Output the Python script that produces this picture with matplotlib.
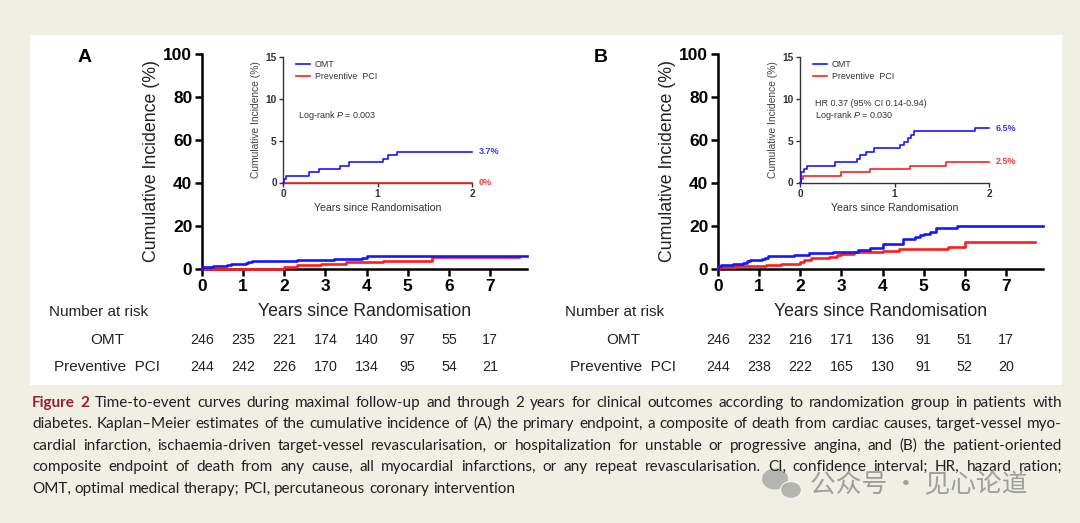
import math
import matplotlib
matplotlib.use("Agg")
import matplotlib.pyplot as plt
from matplotlib.patches import Rectangle, Ellipse

plt.rcParams['font.family'] = ['Liberation Sans', 'DejaVu Sans']
plt.rcParams['mathtext.fontset'] = 'custom'
plt.rcParams['mathtext.it'] = 'Liberation Sans:italic'
plt.rcParams['mathtext.rm'] = 'Liberation Sans'

AZUL = '#1616ff'
ROJO = '#ff1c1c'

# Panel A: maximal follow-up (years, cumulative incidence %)
a_omt_t = [0, 0.01, 0.03, 0.27, 0.38, 0.6, 0.7, 1.06, 1.11, 1.21, 2.3, 3.2, 3.9, 4.0, 7.9]
a_omt_y = [0, 0.4, 0.8, 1.2, 1.6, 2.0, 2.4, 2.8, 3.3, 3.7, 4.2, 4.7, 5.2, 6.2, 6.2]
a_pci_t = [0, 2.0, 2.3, 2.9, 3.5, 4.4, 5.6, 7.7]
a_pci_y = [0, 0.8, 1.7, 2.5, 3.3, 3.9, 5.4, 5.4]

# Panel A inset: first 2 years
ia_omt_t = [0, 0.01, 0.03, 0.27, 0.38, 0.6, 0.7, 1.06, 1.11, 1.21, 2.0]
ia_omt_y = [0, 0.4, 0.8, 1.2, 1.6, 2.0, 2.4, 2.8, 3.3, 3.7, 3.7]
ia_pci_t = [0, 2.0]
ia_pci_y = [0, 0]

# Panel B: maximal follow-up
b_omt_t = [0, 0.01, 0.04, 0.07, 0.37, 0.6, 0.7, 0.78, 1.06, 1.14, 1.21, 1.85, 2.2, 2.8,
           3.4, 3.7, 4.0, 4.5, 4.8, 4.9, 5.0, 5.15, 5.3, 5.8, 7.9]
b_omt_y = [0, 1.2, 1.6, 2.0, 2.4, 2.8, 3.7, 4.1, 4.5, 5.3, 6.1, 6.5, 7.3, 8.1,
           8.9, 9.7, 11.5, 14.0, 14.8, 15.6, 16.5, 17.3, 19.0, 20.2, 20.2]
b_pci_t = [0, 0.03, 0.43, 0.74, 1.16, 1.54, 2.0, 2.1, 2.25, 2.7, 2.9, 3.0, 3.3, 4.0, 4.4, 5.6, 6.0, 7.7]
b_pci_y = [0, 0.8, 1.2, 1.6, 2.0, 2.5, 3.1, 4.1, 5.2, 5.6, 6.4, 7.2, 8.0, 8.6, 9.2, 10.3, 12.7, 12.7]

# Panel B inset
ib_omt_t = [0, 0.01, 0.04, 0.07, 0.37, 0.6, 0.64, 0.7, 0.78, 1.06, 1.1, 1.14, 1.17, 1.21, 1.85, 2.0]
ib_omt_y = [0, 1.2, 1.6, 2.0, 2.4, 2.8, 3.3, 3.7, 4.1, 4.5, 4.9, 5.3, 5.7, 6.1, 6.5, 6.5]
ib_pci_t = [0, 0.01, 0.03, 0.43, 0.74, 1.16, 1.54, 2.0]
ib_pci_y = [0, 0.4, 0.8, 1.2, 1.6, 2.0, 2.5, 2.5]

# Number at risk
risk_years = [0, 1, 2, 3, 4, 5, 6, 7]
risk_a_omt = [246, 235, 221, 174, 140, 97, 55, 17]
risk_a_pci = [244, 242, 226, 170, 134, 95, 54, 21]
risk_b_omt = [246, 232, 216, 171, 136, 91, 51, 17]
risk_b_pci = [244, 238, 222, 165, 130, 91, 52, 20]

etiquetas_a = ['3.7%', '0%']
etiquetas_b = ['6.5%', '2.5%']
textos_a = ['Log-rank $\\it{P}$ = 0.003']
textos_b = ['HR 0.37 (95% CI 0.14-0.94)', 'Log-rank $\\it{P}$ = 0.030']

caption = [
    "Time-to-event curves during maximal follow-up and through 2 years for clinical outcomes according to randomization group in patients with",
    "diabetes. Kaplan\u2013Meier estimates of the cumulative incidence of (A) the primary endpoint, a composite of death from cardiac causes, target-vessel myo-",
    "cardial infarction, ischaemia-driven target-vessel revascularisation, or hospitalization for unstable or progressive angina, and (B) the patient-oriented",
    "composite endpoint of death from any cause, all myocardial infarctions, or any repeat revascularisation. CI, confidence interval; HR, hazard ration;",
    "OMT, optimal medical therapy; PCI, percutaneous coronary intervention",
]

W, H = 1080, 523
fig = plt.figure(figsize=(W / 100, H / 100), dpi=100, facecolor='#f0efe3')
fig.add_artist(Rectangle((30 / W, 1 - 385 / H), 1032 / W, 350 / H,
                         transform=fig.transFigure, facecolor='white', edgecolor='none', zorder=0))


def px_box(x0, y0, x1, y1):
    # pixel box (left, top, right, bottom) -> figure fraction
    return [x0 / W, 1 - y1 / H, (x1 - x0) / W, (y1 - y0) / H]


def panel_principal(left, letra, omt_t, omt_y, pci_t, pci_y, r_omt, r_pci):
    ax = fig.add_axes(px_box(left, 54, left + 325, 269))
    ax.step(omt_t, omt_y, where='post', color=AZUL, lw=1.9, zorder=4, clip_on=False)
    ax.step(pci_t, pci_y, where='post', color=ROJO, lw=1.9, zorder=3, clip_on=False)
    ax.set_xlim(0, 7.9)
    ax.set_ylim(0, 100)
    ax.set_xticks(range(8))
    ax.set_yticks(range(0, 101, 20))
    for s in ['top', 'right']:
        ax.spines[s].set_visible(False)
    for s in ['left', 'bottom']:
        ax.spines[s].set_linewidth(1.8)
    ax.tick_params(width=1.8, length=5, labelsize=12.5, pad=2)
    for lab in ax.get_xticklabels() + ax.get_yticklabels():
        lab.set_fontweight('bold')
    ax.set_ylabel('Cumulative Incidence (%)', fontsize=12.8, color='#222222')
    ax.yaxis.set_label_coords(-0.128, 0.5)
    ax.set_xlabel('Years since Randomisation', fontsize=12.7, color='#222222')
    ax.xaxis.set_label_coords(0.5, -0.158)
    ax.text(-0.36, 0.985, letra, transform=ax.transAxes, fontsize=14, fontweight='bold',
            ha='center', va='center')

    # number at risk table
    ax.text(-0.471, -0.2, 'Number at risk', transform=ax.transAxes, fontsize=11,
            ha='left', va='center', color='#222222')
    ax.text(-0.292, -0.33, 'OMT', transform=ax.transAxes, fontsize=11,
            ha='center', va='center', color='#222222')
    ax.text(-0.292, -0.455, 'Preventive  PCI', transform=ax.transAxes, fontsize=11,
            ha='center', va='center', color='#222222')
    tr = ax.get_xaxis_transform()
    for x, n1, n2 in zip(risk_years, r_omt, r_pci):
        ax.text(x, -0.33, str(n1), transform=tr, fontsize=10.3, ha='center', va='center', color='#222222')
        ax.text(x, -0.455, str(n2), transform=tr, fontsize=10.3, ha='center', va='center', color='#222222')
    return ax


def panel_inset(left, omt_t, omt_y, pci_t, pci_y, etiquetas, textos):
    ax = fig.add_axes(px_box(left, 57, left + 189, 182.5))
    ax.patch.set_alpha(0)
    ax.step(omt_t, omt_y, where='post', color=AZUL, lw=1.2, zorder=4, clip_on=False, label='OMT')
    ax.step(pci_t, pci_y, where='post', color=ROJO, lw=1.2, zorder=3, clip_on=False, label='Preventive  PCI')
    ax.set_xlim(0, 2)
    ax.set_ylim(0, 15)
    ax.set_xticks([0, 1, 2])
    ax.set_yticks([0, 5, 10, 15])
    for s in ['top', 'right']:
        ax.spines[s].set_visible(False)
    for s in ['left', 'bottom']:
        ax.spines[s].set_linewidth(1.0)
        ax.spines[s].set_color('#333333')
    ax.tick_params(width=1.0, length=3, labelsize=7.3, pad=1.5, colors='#333333')
    for lab in ax.get_xticklabels() + ax.get_yticklabels():
        lab.set_fontweight('bold')
    ax.set_ylabel('Cumulative Incidence (%)', fontsize=7.4, color='#444444')
    ax.yaxis.set_label_coords(-0.118, 0.5)
    ax.set_xlabel('Years since Randomisation', fontsize=7.6, color='#333333')
    ax.xaxis.set_label_coords(0.5, -0.165)
    ax.legend(loc='upper left', bbox_to_anchor=(0.07, 0.975), frameon=False, fontsize=6.4,
              handlelength=1.6, handletextpad=0.5, labelspacing=0.3, borderpad=0, borderaxespad=0,
              labelcolor='#333333')
    for i, txt in enumerate(textos[::-1]):
        ax.text(0.08, 0.536 + i * 0.096, txt, transform=ax.transAxes, fontsize=6.5,
                ha='left', va='center', color='#333333')
    ax.annotate(etiquetas[0], (2, omt_y[-1]), xytext=(5, 0), textcoords='offset points',
                fontsize=6.5, fontweight='bold', color='#3a3aff', va='center')
    ax.annotate(etiquetas[1], (2, pci_y[-1]), xytext=(5, 0), textcoords='offset points',
                fontsize=6.5, fontweight='bold', color='#ff3a3a', va='center')
    return ax


panel_principal(202, 'A', a_omt_t, a_omt_y, a_pci_t, a_pci_y, risk_a_omt, risk_a_pci)
panel_principal(718, 'B', b_omt_t, b_omt_y, b_pci_t, b_pci_y, risk_b_omt, risk_b_pci)
panel_inset(283, ia_omt_t, ia_omt_y, ia_pci_t, ia_pci_y, etiquetas_a, textos_a)
panel_inset(800, ib_omt_t, ib_omt_y, ib_pci_t, ib_pci_y, etiquetas_b, textos_b)

# caption, justified word by word
cap_left, cap_right = 32, 1062
cap_base = [407, 428, 450, 471, 493]   # baseline row of each line, pixels from top
renderer = fig.canvas.get_renderer()
lineas = []
for i, linea in enumerate(caption):
    fichas = []
    if i == 0:
        fichas.append(fig.text(0, 0, 'Figure', family='Lato', fontweight='bold', color='#9c1c34'))
        fichas.append(fig.text(0, 0, '2', family='Lato', fontweight='bold', color='#9c1c34'))
    for w in linea.split(' '):
        fichas.append(fig.text(0, 0, w, family='Lato', color='#231f20'))
    lineas.append(fichas)

espacio = fig.text(0, 0, 'a b', family='Lato')
sin_espacio = fig.text(0, 0, 'ab', family='Lato')
base = 10.0
for f in [espacio, sin_espacio] + [t for l in lineas for t in l]:
    f.set_fontsize(base)
sp = espacio.get_window_extent(renderer).width - sin_espacio.get_window_extent(renderer).width
anchos = [sum(t.get_window_extent(renderer).width for t in l) + sp * (len(l) - 1) for l in lineas[:4]]
fs = base * (cap_right - cap_left) / max(anchos) * 0.985
sp = sp * fs / base
espacio.remove()
sin_espacio.remove()

for i, fichas in enumerate(lineas):
    for t in fichas:
        t.set_fontsize(fs)
        t.set_va('baseline')
    w = [t.get_window_extent(renderer).width for t in fichas]
    if i < 4:
        gap = (cap_right - cap_left - sum(w)) / (len(fichas) - 1)
    else:
        gap = sp
    x = cap_left
    for t, wi in zip(fichas, w):
        # Agg puts each word's bitmap on whole pixels from its own ascent/descent,
        # so choose the anchor that lands every word on the same pixel baseline
        _, h, d = renderer.get_text_width_height_descent(t.get_text(), t.get_fontproperties(), ismath=False)
        k = cap_base[i] + math.floor(h) - math.floor(h - d)
        fila = k - d
        t.set_position((x / W, 1 - fila / H))
        x += wi + gap

# watermark
fig.add_artist(Ellipse((775 / W, 1 - 479 / H), 26 / W, 21 / H, transform=fig.transFigure,
                       facecolor='#a0a0a0', edgecolor='none', alpha=0.75))
fig.add_artist(Ellipse((791 / W, 1 - 490 / H), 21 / W, 17 / H, transform=fig.transFigure,
                       facecolor='#a0a0a0', edgecolor='white', lw=1, alpha=0.75))
fig.text(810 / W, 1 - 485 / H, '公众号 · 见心论道', family=['Noto Sans CJK SC', 'DejaVu Sans'],
         fontsize=18.5, color='#8a8a8a', alpha=0.8, va='center', ha='left')

fig.savefig('out.png', dpi=100, facecolor=fig.get_facecolor())
